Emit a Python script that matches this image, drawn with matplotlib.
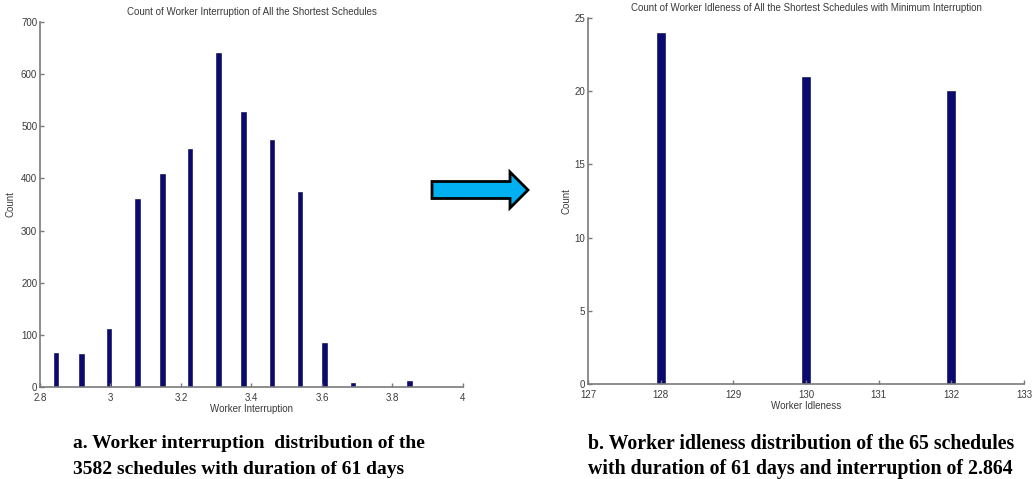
import matplotlib.pyplot as plt
from matplotlib.patches import FancyArrow
from matplotlib.ticker import FormatStrFormatter

# data
interruption = [2.845, 2.917, 2.996, 3.077, 3.147, 3.226, 3.306, 3.377, 3.458, 3.537, 3.607, 3.688, 3.848]
interruption_count = [65, 63, 112, 360, 408, 456, 641, 527, 474, 374, 84, 7, 11]
idleness = [128, 130, 132]
idleness_count = [24, 21, 20]

caption_a = ["a. Worker interruption  distribution of the",
             "3582 schedules with duration of 61 days"]
caption_b = ["b. Worker idleness distribution of the 65 schedules",
             "with duration of 61 days and interruption of 2.864"]

W, H = 1033, 479
plt.rcParams['font.family'] = ['Liberation Sans', 'DejaVu Sans']
fig = plt.figure(figsize=(W / 100, H / 100), dpi=100)

axis_grey = '#7a7a7a'
text_grey = '#3a3a3a'
bar_color = '#0a0a70'


def style_axes(ax):
    for side in ['top', 'right']:
        ax.spines[side].set_visible(False)
    for side in ['left', 'bottom']:
        ax.spines[side].set_color(axis_grey)
        ax.spines[side].set_linewidth(1.2)
    ax.tick_params(direction='in', length=3, width=1, colors=axis_grey,
                   labelcolor=text_grey, labelsize=7)
    ax.tick_params(axis='x', pad=4)
    ax.tick_params(axis='y', pad=2)


# left histogram
ax1 = fig.add_axes([40 / W, 1 - 387 / H, 423 / W, 365 / H])
ax1.bar(interruption, interruption_count, width=0.013, color=bar_color,
        edgecolor='#000040', linewidth=0.4)
ax1.set_xlim(2.8, 4.0)
ax1.set_ylim(0, 700)
ax1.set_xticks([2.8, 3.0, 3.2, 3.4, 3.6, 3.8, 4.0])
ax1.set_yticks(range(0, 701, 100))
ax1.xaxis.set_major_formatter(FormatStrFormatter('%g'))
ax1.set_title('Count of Worker Interruption of All the Shortest Schedules',
              fontsize=7, color=text_grey, pad=5)
ax1.set_xlabel('Worker Interruption', fontsize=7, color=text_grey, labelpad=1)
ax1.set_ylabel('Count', fontsize=7, color=text_grey, labelpad=4)
style_axes(ax1)

# right histogram
ax2 = fig.add_axes([588 / W, 1 - 384 / H, 436 / W, 366 / H])
ax2.bar(idleness, idleness_count, width=0.11, color=bar_color,
        edgecolor='#000040', linewidth=0.4)
ax2.set_xlim(127, 133)
ax2.set_ylim(0, 25)
ax2.set_xticks(range(127, 134))
ax2.set_yticks(range(0, 26, 5))
ax2.set_title('Count of Worker Idleness of All the Shortest Schedules with Minimum Interruption',
              fontsize=7, color=text_grey, pad=5)
ax2.set_xlabel('Worker Idleness', fontsize=7, color=text_grey, labelpad=1)
ax2.set_ylabel('Count', fontsize=7, color=text_grey, labelpad=2)
style_axes(ax2)

# arrow between the panels
arrow = FancyArrow(432 / W, 1 - 190 / H, 96 / W, 0, width=17 / H,
                   head_width=36 / H, head_length=18 / W,
                   length_includes_head=True, transform=fig.transFigure,
                   facecolor='#00b0f0', edgecolor='black', linewidth=2)
fig.patches.append(arrow)

# captions
for i, line in enumerate(caption_a):
    fig.text(73 / W, 1 - (444 + 25 * i) / H, line, ha='left', va='center',
             family='Liberation Serif', weight='bold', fontsize=14)
for i, line in enumerate(caption_b):
    fig.text(588 / W, 1 - (444 + 25 * i) / H, line, ha='left', va='center',
             family='Liberation Serif', weight='bold', fontsize=14.3)

fig.savefig('out.png', dpi=100)
